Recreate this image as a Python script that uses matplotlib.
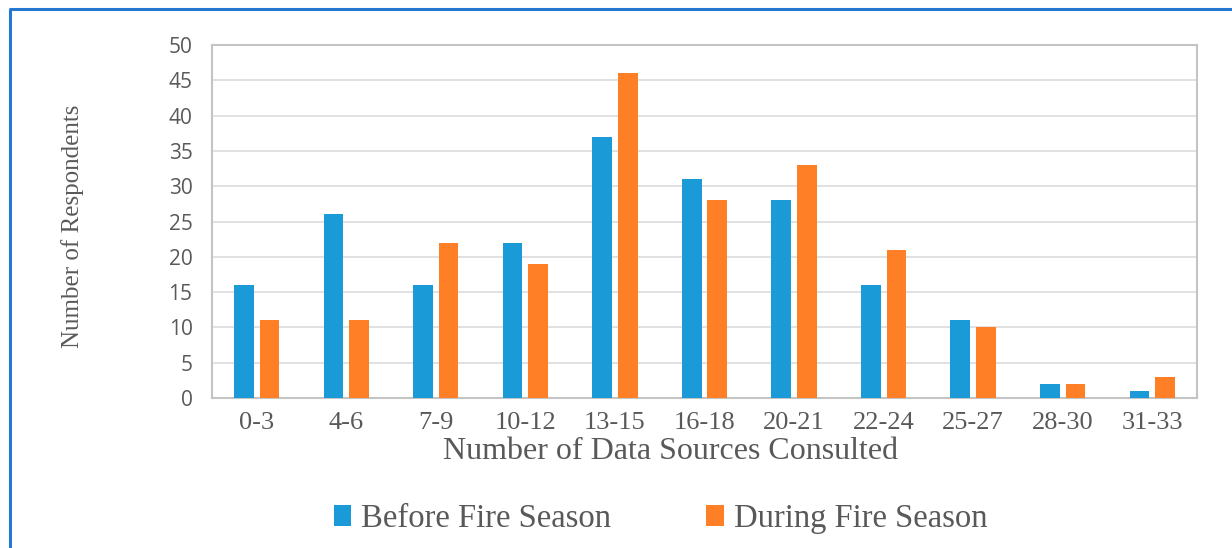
import numpy as np
import matplotlib
matplotlib.use('Agg')
import matplotlib.pyplot as plt
from matplotlib.lines import Line2D

# respondents per bin of data sources consulted
bins = ['0-3', '4-6', '7-9', '10-12', '13-15', '16-18', '20-21',
        '22-24', '25-27', '28-30', '31-33']
before = [16, 26, 16, 22, 37, 31, 28, 16, 11, 2, 1]
during = [11, 11, 22, 19, 46, 28, 33, 21, 10, 2, 3]
yticks = [0, 5, 10, 15, 20, 25, 30, 35, 40, 45, 50]

blue = '#1a9bd7'
orange = '#ff7f27'
grey = '#595959'
serif = ['Liberation Serif', 'DejaVu Serif']

fig = plt.figure(figsize=(12.32, 5.48), dpi=100)
ax = fig.add_axes([0.172, 0.2737, 0.7996, 0.6442])

x = np.arange(len(bins))
w = 0.22
ax.bar(x - 0.143, before, width=w, color=blue, label='Before Fire Season', zorder=3)
ax.bar(x + 0.143, during, width=w, color=orange, label='During Fire Season', zorder=3)

ax.set_xlim(-0.5, len(bins) - 0.5)
ax.set_ylim(0, 50)
ax.set_yticks(yticks)
ax.set_xticks(x)
ax.set_xticklabels(bins, fontfamily=serif, fontsize=19, color=grey)
for t in ax.get_yticklabels():
    t.set_fontfamily(['Open Sans', 'DejaVu Sans'])
    t.set_fontsize(15)
    t.set_color(grey)
ax.tick_params(axis='both', length=0)
ax.tick_params(axis='x', pad=10)
ax.tick_params(axis='y', pad=14)

ax.grid(axis='y', color='#dcdcdc', linewidth=1.2, zorder=0)
for s in ax.spines.values():
    s.set_color('#c4c4c4')
    s.set_linewidth(1.5)

ax.set_xlabel('Number of Data Sources Consulted', fontfamily=serif,
              fontsize=23, color=grey)
ax.xaxis.label.set_va('center')
ax.xaxis.set_label_coords(0.466, -0.152)
ax.set_ylabel('Number of Respondents', fontfamily=serif, fontsize=18, color=grey)
ax.yaxis.label.set_va('center')
ax.yaxis.set_label_coords(-0.142, 0.487)

leg = fig.legend(loc='center', bbox_to_anchor=(0.536, 0.053), ncol=2,
                 frameon=False, prop={'family': serif, 'size': 23.5},
                 handlelength=0.55, handleheight=0.6, handletextpad=0.3,
                 columnspacing=2.9)
for t in leg.get_texts():
    t.set_color(grey)

# blue frame along the left and top edges
W, H = 1232, 548
fig.add_artist(Line2D([9.5 / W, 9.5 / W, 1.0], [0.0, 1 - 8.5 / H, 1 - 8.5 / H],
                      transform=fig.transFigure, color='#2478d2', linewidth=2.2))

fig.savefig('out.png', dpi=100)
